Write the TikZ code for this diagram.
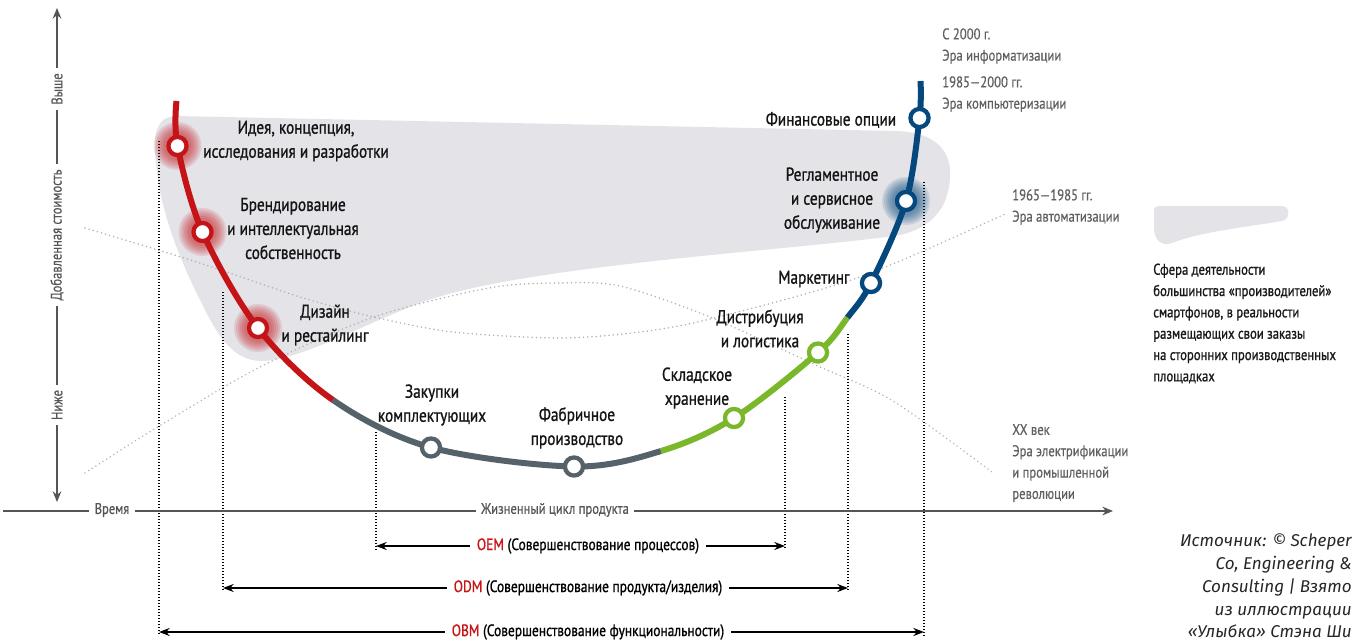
\documentclass[tikz,border=0pt]{standalone}
\usepackage{fontspec}
\setmainfont{PT Sans}[FakeStretch=0.82, FakeBold=0.5]
\newfontfamily\lblfont{PT Sans}[FakeStretch=0.82, FakeBold=1.0]
\newfontfamily\srcfont{Fira Sans}
\usetikzlibrary{arrows.meta}

\definecolor{cvred}{RGB}{196,20,24}
\definecolor{cvgray}{RGB}{86,98,106}
\definecolor{cvgreen}{RGB}{122,183,42}
\definecolor{cvblue}{RGB}{4,72,125}
\definecolor{blobgray}{RGB}{227,227,232}
\definecolor{eragray}{RGB}{95,95,95}
\definecolor{axisgray}{RGB}{85,85,85}
\definecolor{dotgray}{RGB}{178,178,178}
\definecolor{oemred}{RGB}{200,20,20}

\tikzset{
  curveline/.style={line width=4.5pt},
  stage/.style={circle, draw, fill=white, line width=3.2pt, minimum size=13.6pt, inner sep=0pt},
  lbl/.style={font=\lblfont\fontsize{14}{18}\selectfont, align=center, text=black!92, inner sep=0pt},
  era/.style={font=\fontsize{11.6}{16}\selectfont, align=left, text=eragray, anchor=west, inner sep=0pt},
  eraline/.style={dotgray, line width=1.3pt, line cap=round, dash pattern=on 0.01pt off 3.2pt},
  guide/.style={black, line width=0.9pt, dash pattern=on 0.75pt off 1.5pt},
  axisline/.style={axisgray, line width=1.6pt},
  axlbl/.style={font=\fontsize{11.5}{14}\selectfont, text=axisgray, fill=white, inner xsep=4pt, inner ysep=1pt},
  dimline/.style={black, line width=1.5pt, {Stealth[length=8pt,width=6pt]}-{Stealth[length=8pt,width=6pt]}},
  dimlbl/.style={font=\lblfont\fontsize{12.3}{16}\selectfont, fill=white, inner xsep=5pt, inner ysep=1pt},
  tip/.style={-{Stealth[length=8pt,width=6.5pt]}}
}

\begin{document}
\begin{tikzpicture}[x=0.75pt,y=-0.75pt]
\useasboundingbox (0,0) rectangle (1362,642);

% shaded sphere of activity
\fill[blobgray] (175,116) -- (895,131)
  .. controls (935,132) and (952,150) .. (950,178)
  .. controls (948,210) and (930,228) .. (900,235)
  .. controls (800,250) and (520,265) .. (420,303)
  .. controls (360,326) and (300,360) .. (262,361)
  .. controls (230,361) and (215,330) .. (200,300)
  .. controls (175,250) and (157,200) .. (155,150)
  .. controls (154,128) and (160,117) .. (175,116) -- cycle;

% era curves
\coordinate (l1a) at (85,228);
\coordinate (l1b) at (1005,214);
\coordinate (l2a) at (85,473);
\coordinate (l2b) at (992,472);
\draw[eraline] plot[smooth] coordinates {(l1a) (200,263) (300,297) (374,317) (453,332) (560,338) (640,332) (710,319) (860,277) (l1b)};
\draw[eraline] plot[smooth] coordinates {(l2a) (156,428) (260,367) (374,317) (489,288) (560,283) (620,286) (710,317) (818,366) (893,401) (l2b)};

% vertical guides
\coordinate (v1t) at (159,141); \coordinate (v1b) at (159,636);
\coordinate (v2t) at (223,292); \coordinate (v2b) at (223,592);
\coordinate (v3t) at (376,432); \coordinate (v3b) at (376,550);
\coordinate (v4t) at (785,397); \coordinate (v4b) at (785,550);
\coordinate (v5t) at (848,334); \coordinate (v5b) at (848,592);
\coordinate (v6t) at (924,182); \coordinate (v6b) at (924,636);
\foreach \v in {v1,v2,v3,v4,v5,v6} \draw[guide] (\v t) -- (\v b);

% smile curve points
\coordinate (c0) at (176.5,101);
\coordinate (p1) at (177.5,146);
\coordinate (p2) at (202.5,232);
\coordinate (p3) at (258,328);
\coordinate (b1) at (333,400);
\coordinate (p4) at (431,447.5);
\coordinate (p5) at (574,466.5);
\coordinate (b2) at (661,451);
\coordinate (p6) at (734,418);
\coordinate (p7) at (818,352.5);
\coordinate (b3) at (847.5,317.5);
\coordinate (p8) at (871,283);
\coordinate (p9) at (906,201);
\coordinate (p10) at (919.5,118);
\coordinate (c1) at (920.5,81);

% soft halos behind the highlighted stages
\foreach \p in {p1,p2,p3}
  \foreach \r in {24,22,20,18,16,14} \fill[cvred, opacity=0.12] (\p) circle (\r);
\foreach \r in {24,22,20,18,16,14} \fill[cvblue, opacity=0.12] (p9) circle (\r);

\def\smile{plot[smooth, tension=0.55] coordinates {(c0) (p1) (p2) (p3) (b1) (p4) (p5) (b2) (p6) (p7) (b3) (p8) (p9) (p10) (c1)}}
\begin{scope}
  \clip (0,0) -- (364.8,0) -- (364.8,349) -- (301.2,451) -- (0,642) -- cycle;
  \draw[curveline, cvred] \smile;
\end{scope}
\begin{scope}
  \clip (364.8,349) -- (301.2,451) -- (678.4,508.6) -- (643.6,393.4) -- cycle;
  \draw[curveline, cvgray] \smile;
\end{scope}
\begin{scope}
  \clip (643.6,393.4) -- (678.4,508.6) -- (895.2,353.9) -- (799.8,281.1) -- cycle;
  \draw[curveline, cvgreen] \smile;
\end{scope}
\begin{scope}
  \clip (799.8,281.1) -- (895.2,353.9) -- (1362,353.9) -- (1362,0) -- (799.8,0) -- cycle;
  \draw[curveline, cvblue] \smile;
\end{scope}

% stages
\node[stage, draw=cvred] (s1) at (p1) {};
\node[stage, draw=cvred] (s2) at (p2) {};
\node[stage, draw=cvred] (s3) at (p3) {};
\node[stage, draw=cvgray] (s4) at (p4) {};
\node[stage, draw=cvgray] (s5) at (p5) {};
\node[stage, draw=cvgreen] (s6) at (p6) {};
\node[stage, draw=cvgreen] (s7) at (p7) {};
\node[stage, draw=cvblue] (s8) at (p8) {};
\node[stage, draw=cvblue] (s9) at (p9) {};
\node[stage, draw=cvblue] (s10) at (p10) {};

\node[lbl] (t1) at (296,141) {Идея, концепция,\\исследования и разработки};
\node[lbl] (t2) at (293,228.5) {Брендирование\\и интеллектуальная\\собственность};
\node[lbl] (t3) at (325,325) {Дизайн\\и рестайлинг};
\node[lbl] (t4) at (432,405) {Закупки\\комплектующих};
\node[lbl] (t5) at (577,428) {Фабричное\\производство};
\node[lbl] (t6) at (697,388) {Складское\\хранение};
\node[lbl] (t7) at (760,328.5) {Дистрибуция\\и логистика};
\node[lbl] (t8) at (814,279) {Маркетинг};
\node[lbl] (t9) at (832,200) {Регламентное\\и сервисное\\обслуживание};
\node[lbl] (t10) at (831,120) {Финансовые опции};

% eras
\node[era] (e1) at (942,46) {С 2000 г.\\Эра информатизации};
\node[era] (e2) at (942,94) {1985—2000 гг.\\Эра компьютеризации};
\node[era] (e3) at (1012,207) {1965—1985 гг.\\Эра автоматизации};
\node[era] (e4) at (1012,463) {XX век\\Эра электрификации\\и промышленной\\революции};

% axes
\coordinate (x0) at (3,511);
\coordinate (x1) at (1113,511);
\coordinate (y0) at (57,8);
\coordinate (y1) at (57,502);
\draw[axisline, tip] (x0) -- (x1);
\draw[axisline, {Stealth[length=8pt,width=6.5pt]}-{Stealth[length=8pt,width=6.5pt]}] (y0) -- (y1);
\node[axlbl] (xl1) at (112,510) {Время};
\node[axlbl] (xl2) at (555,510) {Жизненный цикл продукта};
\node[axlbl, rotate=90] (yl1) at (57,89) {Выше};
\node[axlbl, rotate=90] (yl2) at (57,235) {Добавленная стоимость};
\node[axlbl, rotate=90] (yl3) at (57,405) {Ниже};

% spans of the business models
\coordinate (oemL) at (376,546); \coordinate (oemR) at (785,546);
\coordinate (odmL) at (223,588); \coordinate (odmR) at (848,588);
\coordinate (obmL) at (159,632); \coordinate (obmR) at (924,632);
\draw[dimline] (oemL) -- (oemR);
\draw[dimline] (odmL) -- (odmR);
\draw[dimline] (obmL) -- (obmR);
\node[dimlbl] (oem) at (588,546) {\textcolor{oemred}{OEM} (Совершенствование процессов)};
\node[dimlbl] (odm) at (588,588) {\textcolor{oemred}{ODM} (Совершенствование продукта/изделия)};
\node[dimlbl] (obm) at (588,632) {\textcolor{oemred}{OBM} (Совершенствование функциональности)};

% legend
\fill[blobgray] (1158,206) -- (1282,206)
  .. controls (1290,206) and (1291,219) .. (1282,221)
  .. controls (1240,228) and (1200,232) .. (1172,243)
  .. controls (1162,247) and (1155,240) .. (1154,230)
  -- (1154,212) .. controls (1154,208) and (1155,206) .. (1158,206) -- cycle;
\node[font=\lblfont\fontsize{11.6}{16}\selectfont, align=left, anchor=west, inner sep=0pt, text=black!90] (leg) at (1153,323.5)
  {Сфера деятельности\\большинства «производителей»\\смартфонов, в реальности\\размещающих свои заказы\\на сторонних производственных\\площадках};

% source
\node[font=\srcfont\itshape\fontsize{12.8}{17.1}\selectfont, align=right, anchor=east, inner sep=0pt, text=black!85] (src) at (1352,586)
  {Источник: © Scheper\\Co, Engineering \&\\Consulting | Взято\\из иллюстрации\\«Улыбка» Стэна Ши};
\end{tikzpicture}
\end{document}
